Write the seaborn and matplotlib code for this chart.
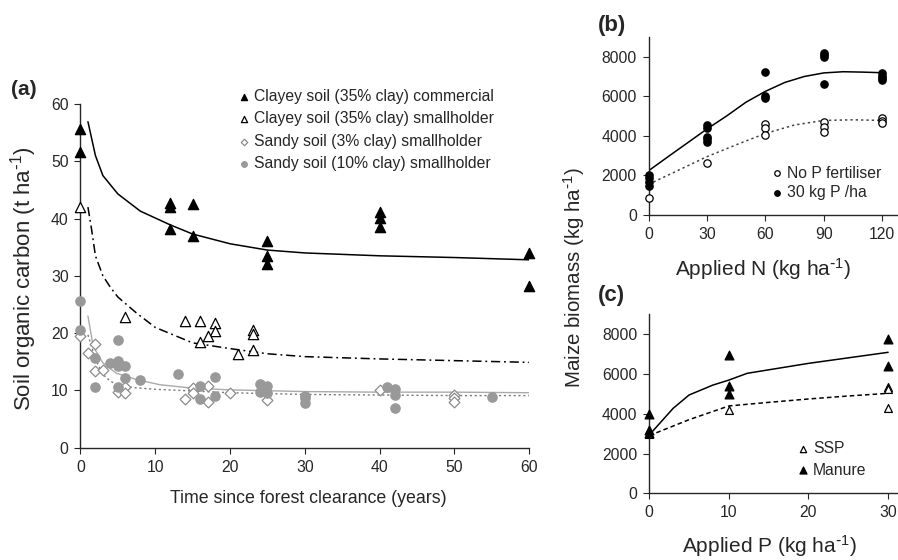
import numpy as np
import pandas as pd
import matplotlib
matplotlib.use("Agg")
import matplotlib.pyplot as plt
import seaborn as sns

# ------------------------------------------------------------
# Data (a): soil organic carbon vs time since forest clearance
# ------------------------------------------------------------
com_x = [0, 0, 12, 12, 12, 15, 15, 25, 25, 25, 40, 40, 40, 60, 60]
com_y = [55.7, 51.7, 42.7, 42.1, 38.2, 42.6, 36.9, 36.0, 33.5, 32.1,
         41.1, 40.1, 38.5, 34.0, 28.3]

clay_sh_x = [0, 6, 14, 16, 18, 18, 17, 16, 21, 23, 23, 23]
clay_sh_y = [42.0, 22.8, 22.1, 22.1, 21.7, 20.3, 19.5, 18.4, 16.4, 20.6, 19.9, 17.1]

sand3_x = [0, 1, 2, 2, 3, 5, 6, 6, 14, 15, 15, 17, 17, 20, 25, 40, 50, 50, 50]
sand3_y = [19.5, 16.5, 18.1, 13.4, 13.5, 9.7, 10.6, 9.5, 8.5, 10.4, 9.6,
           10.8, 8.0, 9.5, 8.3, 10.0, 9.2, 8.6, 8.0]

sand10_x = [0, 0, 2, 2, 4, 5, 5, 5, 6, 6, 5, 8, 13, 16, 16, 18, 18,
            24, 24, 25, 25, 30, 30, 30, 41, 42, 42, 42, 55]
sand10_y = [25.6, 20.5, 15.7, 10.6, 14.8, 18.8, 15.2, 14.3, 14.2, 12.1, 10.6,
            11.8, 12.9, 10.7, 8.5, 12.4, 9.0, 11.1, 9.8, 10.7, 9.5, 9.1,
            8.6, 7.8, 10.6, 10.2, 9.2, 7.0, 8.8]

# fitted curves
fit_com_x = [1, 2, 3, 5, 8, 12, 15, 20, 25, 30, 40, 50, 60]
fit_com_y = [56.9, 51.0, 47.5, 44.3, 41.3, 38.9, 37.3, 35.6, 34.5, 34.0, 33.5, 33.2, 32.8]

fit_clay_x = [1, 1.5, 2, 3, 4, 5, 7.5, 10, 15, 20, 25, 30, 40, 50, 60]
fit_clay_y = [42.0, 38.0, 33.5, 30.0, 28.0, 26.3, 23.5, 21.0, 18.3, 17.3,
              16.4, 15.9, 15.5, 15.2, 14.9]

fit_s10_x = [1, 1.7, 3, 4.8, 7.5, 10.6, 15, 20, 30, 40, 50, 60]
fit_s10_y = [23.0, 17.7, 14.8, 13.0, 11.9, 11.0, 10.4, 10.1, 9.8, 9.7, 9.7, 9.6]

fit_s3_x = [1, 2, 3, 4, 5, 7, 10, 15, 20, 30, 40, 50, 60]
fit_s3_y = [19.7, 15.5, 12.8, 11.6, 11.0, 10.5, 10.2, 9.9, 9.6, 9.3, 9.2, 9.1, 9.1]

# ------------------------------------------------------------
# Data (b): maize biomass vs applied N
# ------------------------------------------------------------
p30_x = [0, 0, 0, 0, 30, 30, 30, 30, 30, 60, 60, 60, 90, 90, 90, 90,
         120, 120, 120, 120]
p30_y = [2020, 1850, 1680, 1465, 4545, 4410, 3925, 3825, 3670, 7237, 6010,
         5890, 8196, 8080, 7964, 6600, 7155, 7020, 6900, 6820]

p0_x = [0, 30, 60, 60, 60, 90, 90, 90, 120, 120, 120]
p0_y = [843, 2640, 4580, 4380, 4040, 4710, 4460, 4175, 4880, 4760, 4660]

fit_p30_x = [0, 10, 20, 30, 40, 50, 60, 70, 80, 90, 100, 110, 120]
fit_p30_y = [2240, 2950, 3650, 4350, 5000, 5700, 6250, 6700, 7000, 7180, 7240, 7220, 7190]

fit_p0_x = [0, 15, 30, 45, 60, 75, 90, 105, 120]
fit_p0_y = [1550, 2250, 2950, 3550, 4120, 4550, 4780, 4810, 4780]

# ------------------------------------------------------------
# Data (c): maize biomass vs applied P
# ------------------------------------------------------------
man_x = [0, 0, 0, 10, 10, 10, 30, 30]
man_y = [3970, 3180, 3045, 6950, 5390, 4990, 7750, 6400]

ssp_x = [0, 10, 30, 30, 30]
ssp_y = [3000, 4185, 5360, 5240, 4270]

fit_man_x = [0, 3, 5, 8, 10, 12.3, 20, 30]
fit_man_y = [2930, 4270, 4940, 5440, 5690, 6030, 6530, 7085]

fit_ssp_x = [0, 5, 10, 15, 20, 25, 30]
fit_ssp_y = [2900, 3700, 4390, 4570, 4740, 4890, 5025]

# ------------------------------------------------------------
# Style
# ------------------------------------------------------------
sns.set_style("ticks")
plt.rcParams["font.family"] = ["Liberation Sans", "DejaVu Sans"]
plt.rcParams["mathtext.default"] = "regular"
plt.rcParams["xtick.labelsize"] = 11.3
plt.rcParams["ytick.labelsize"] = 11.3
plt.rcParams["xtick.major.size"] = 4
plt.rcParams["ytick.major.size"] = 4
plt.rcParams["xtick.major.pad"] = 4.5
plt.rcParams["ytick.major.pad"] = 4.5
plt.rcParams["axes.linewidth"] = 1.0

GREY = "#999999"
DIAM = "#8c8c8c"
PER_HA = r"ha$^{\text{-}1}$"

fig = plt.figure(figsize=(8.98, 5.6), dpi=100)
ax_a = fig.add_axes([0.0896, 0.2005, 0.4998, 0.6138])
ax_b = fig.add_axes([0.7224, 0.6161, 0.2773, 0.3180])
ax_c = fig.add_axes([0.7230, 0.1191, 0.2766, 0.3198])


def scatter(ax, x, y, marker, face, edge, s, label):
    sns.scatterplot(x=x, y=y, ax=ax, marker=marker, color=face, edgecolor=edge,
                    linewidth=0.9, s=s, label=label, clip_on=False, zorder=3)


def fit(ax, x, y, color, ls, lw=1.1):
    sns.lineplot(x=x, y=y, ax=ax, color=color, linestyle=ls, linewidth=lw,
                 sort=False, estimator=None, legend=False, zorder=2)


def small_legend(ax, x, y, spacing, scale):
    ax.legend(loc="center left", bbox_to_anchor=(x, y), frameon=False,
              fontsize=11.3, handlelength=0.6, handletextpad=0.35,
              labelspacing=spacing, markerscale=scale, borderpad=0,
              borderaxespad=0)


# ---------------- (a) ----------------
fit(ax_a, fit_com_x, fit_com_y, "black", "-")
fit(ax_a, fit_clay_x, fit_clay_y, "black", (0, (6, 2.5, 1.2, 2.5)))
fit(ax_a, fit_s10_x, fit_s10_y, "#aaaaaa", "-", 1.0)
fit(ax_a, fit_s3_x, fit_s3_y, "#777777", (0, (1.5, 2)), 1.0)

scatter(ax_a, com_x, com_y, "^", "black", "black", 55,
        "Clayey soil (35% clay) commercial")
scatter(ax_a, clay_sh_x, clay_sh_y, "^", "white", "black", 55,
        "Clayey soil (35% clay) smallholder")
scatter(ax_a, sand3_x, sand3_y, "D", "white", DIAM, 30,
        "Sandy soil (3% clay) smallholder")
scatter(ax_a, sand10_x, sand10_y, "o", GREY, GREY, 45,
        "Sandy soil (10% clay) smallholder")

ax_a.set_xlim(0, 60)
ax_a.set_ylim(0, 60)
ax_a.set_xticks(range(0, 61, 10))
ax_a.set_yticks(range(0, 61, 10))
ax_a.set_xlabel("Time since forest clearance (years)", fontsize=12.8)
ax_a.set_ylabel("Soil organic carbon (t " + PER_HA + ")", fontsize=16)
ax_a.xaxis.set_label_coords(0.508, -0.123)
ax_a.yaxis.set_label_coords(-0.093, 0.49)
small_legend(ax_a, 0.354, 0.924, 0.48, 0.6)
sns.despine(ax=ax_a)
fig.text(0.012, 0.83, "(a)", fontsize=15, fontweight="bold")

# ---------------- (b) ----------------
fit(ax_b, fit_p30_x, fit_p30_y, "black", "-")
fit(ax_b, fit_p0_x, fit_p0_y, "#444444", (0, (1.5, 2)))
scatter(ax_b, p0_x, p0_y, "o", "white", "black", 28, "No P fertiliser")
scatter(ax_b, p30_x, p30_y, "o", "black", "black", 28, "30 kg P /ha")
ax_b.set_xlim(0, 128)
ax_b.set_ylim(0, 9000)
ax_b.set_xticks([0, 30, 60, 90, 120])
ax_b.set_yticks([0, 2000, 4000, 6000, 8000])
ax_b.set_xlabel("Applied N (kg " + PER_HA + ")", fontsize=15)
ax_b.xaxis.set_label_coords(0.461, -0.23)
ax_b.set_ylabel("")
small_legend(ax_b, 0.495, 0.18, 0.3, 0.75)
sns.despine(ax=ax_b)
fig.text(0.666, 0.945, "(b)", fontsize=16, fontweight="bold")

# ---------------- (c) ----------------
fit(ax_c, fit_man_x, fit_man_y, "black", "-")
fit(ax_c, fit_ssp_x, fit_ssp_y, "black", (0, (3, 2)))
scatter(ax_c, ssp_x, ssp_y, "^", "white", "black", 32, "SSP")
scatter(ax_c, man_x, man_y, "^", "black", "black", 40, "Manure")
ax_c.set_xlim(0, 31.2)
ax_c.set_ylim(0, 9000)
ax_c.set_xticks([0, 10, 20, 30])
ax_c.set_yticks([0, 2000, 4000, 6000, 8000])
ax_c.set_xlabel("Applied P (kg " + PER_HA + ")", fontsize=15)
ax_c.xaxis.set_label_coords(0.482, -0.222)
ax_c.set_ylabel("")
small_legend(ax_c, 0.60, 0.19, 0.42, 0.8)
sns.despine(ax=ax_c)
fig.text(0.666, 0.462, "(c)", fontsize=16, fontweight="bold")

fig.text(0.639, 0.504, "Maize biomass (kg " + PER_HA + ")", fontsize=14.8,
         rotation=90, ha="center", va="center")

fig.savefig("out.png", dpi=100)
